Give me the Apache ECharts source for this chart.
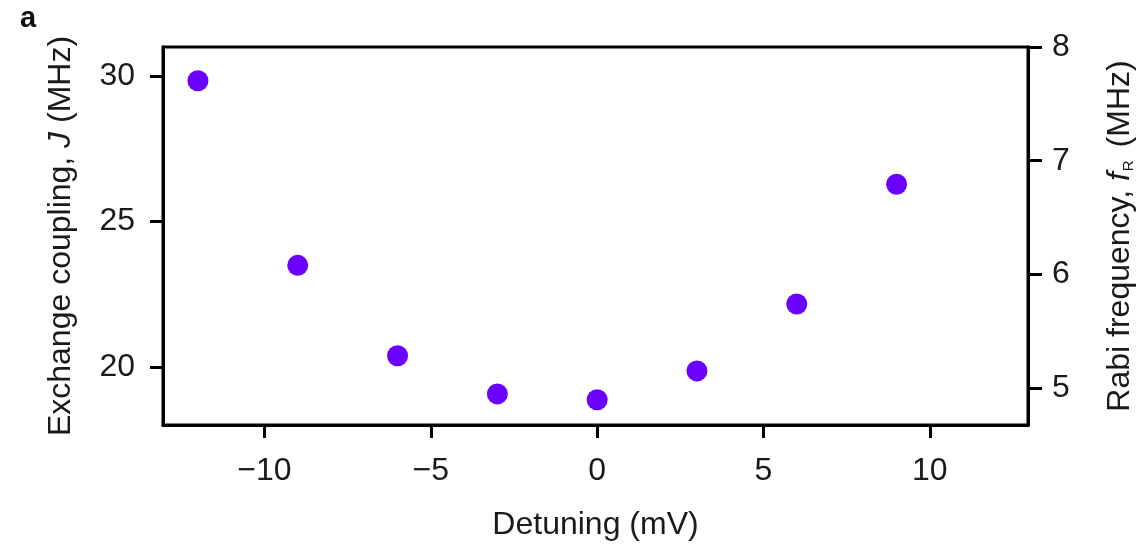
<!DOCTYPE html>
<html>
<head>
<meta charset="utf-8">
<script src="https://cdn.jsdelivr.net/npm/echarts@6/dist/echarts.min.js"></script>
<style>
html,body{margin:0;padding:0;background:#fff;}
#c{width:1144px;height:546px;}
</style>
</head>
<body>
<div id="c"></div>
<script>
// Data
const detuning = [-12, -9, -6, -3, 0, 3, 6, 9];
const exchangeJ = [29.84, 23.49, 20.38, 19.07, 18.87, 19.86, 22.16, 26.28];
const xTicks = [-10, -5, 0, 5, 10];
const jTicks = [20, 25, 30];
const fTicks = [5, 6, 7, 8];

const FONT = 'Liberation Sans, Arial, Helvetica, sans-serif';
const TXT = '#1a1a1a';
const fmtMinus = v => String(v).replace('-', '\u2212');

const chart = echarts.init(document.getElementById('c'), null, {renderer: 'canvas'});
chart.setOption({
  backgroundColor: '#fff',
  animation: false,
  graphic: [{
    type: 'text', left: 20, top: 4,
    style: {text: 'a', font: 'bold 29px ' + FONT, fill: '#111'}
  }],
  grid: {left: 163, right: 110, top: 47, bottom: 119, show: true, borderColor: '#000', borderWidth: 3},
  xAxis: {
    type: 'value', min: -13.05, max: 12.95,
    name: 'Detuning (mV)', nameLocation: 'middle', nameGap: 84,
    nameTextStyle: {fontSize: 32, fontFamily: FONT, color: TXT},
    axisLine: {show: true, onZero: false, lineStyle: {color: '#000', width: 3}},
    axisTick: {show: true, length: 13, lineStyle: {color: '#000', width: 3}, customValues: xTicks},
    axisLabel: {fontSize: 32, fontFamily: FONT, color: TXT, margin: 30, customValues: xTicks, formatter: fmtMinus},
    splitLine: {show: false}
  },
  yAxis: [{
    type: 'value', min: 18, max: 31, position: 'left',
    name: '{n|Exchange coupling, }{i|J}{n| (MHz)}', nameLocation: 'middle', nameRotate: 90, nameGap: 86,
    nameTextStyle: {fontSize: 32, fontFamily: FONT, color: TXT,
      rich: {n: {fontSize: 32, fontFamily: FONT, color: TXT}, i: {fontSize: 32, fontFamily: FONT, color: TXT, fontStyle: 'italic'}}},
    axisLine: {show: true, onZero: false, lineStyle: {color: '#000', width: 3}},
    axisTick: {show: true, length: 13, lineStyle: {color: '#000', width: 3}, customValues: jTicks},
    axisLabel: {fontSize: 32, fontFamily: FONT, color: TXT, margin: 28, customValues: jTicks},
    splitLine: {show: false}
  }, {
    type: 'value', min: 4.675, max: 8, position: 'right',
    name: '{n|Rabi frequency, }{i|f}{s|R}{n| (MHz)}', nameLocation: 'middle', nameRotate: 90, nameGap: 76,
    nameTextStyle: {fontSize: 32, fontFamily: FONT, color: TXT,
      rich: {n: {fontSize: 32, fontFamily: FONT, color: TXT},
             i: {fontSize: 32, fontFamily: FONT, color: TXT, fontStyle: 'italic'},
             s: {fontSize: 15, fontFamily: FONT, color: TXT, verticalAlign: 'bottom', padding: [12, 4, 0, 1]}}},
    axisLine: {show: true, onZero: false, lineStyle: {color: '#000', width: 3}},
    axisTick: {show: true, length: 14, lineStyle: {color: '#000', width: 3}, customValues: fTicks},
    axisLabel: {fontSize: 32, fontFamily: FONT, color: TXT, margin: 24, customValues: fTicks},
    splitLine: {show: false}
  }],
  series: [{
    type: 'scatter', yAxisIndex: 0,
    data: detuning.map((d, i) => [d, exchangeJ[i]]),
    symbol: 'circle', symbolSize: 21,
    itemStyle: {color: '#6a00ff', opacity: 1}
  }]
});
</script>
</body>
</html>
